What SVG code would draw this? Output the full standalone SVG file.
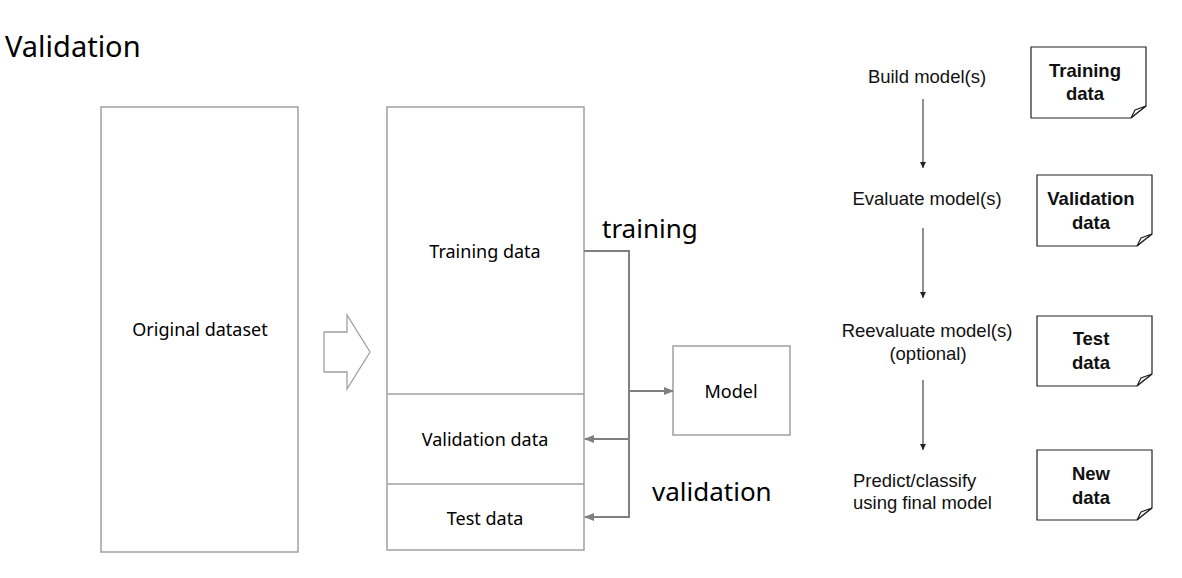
<svg xmlns="http://www.w3.org/2000/svg" width="1182" height="578" viewBox="0 0 1182 578">
<style>
.k{font-family:"Noto Sans","Open Sans",sans-serif;fill:#000}
.a{font-family:"Liberation Sans",Arial,sans-serif;fill:#111;font-size:18.5px}
.b{font-family:"Liberation Sans",Arial,sans-serif;fill:#111;font-size:18.5px;font-weight:bold;text-anchor:middle}
.box{fill:#fff;stroke:#a0a0a0;stroke-width:1.5}
.doc{fill:#fff;stroke:#222;stroke-width:1.2}
.con{fill:none;stroke:#808080;stroke-width:2}
.rar{fill:none;stroke:#222;stroke-width:1}
</style>
<defs>
<marker id="ga" markerUnits="userSpaceOnUse" markerWidth="10" markerHeight="8" refX="9" refY="4" orient="auto"><path d="M0,0 L10,4 L0,8 Z" fill="#808080"/></marker>
<marker id="ba" markerUnits="userSpaceOnUse" markerWidth="6" markerHeight="6" refX="6" refY="3" orient="auto"><path d="M0,0 L6,3 L0,6 Z" fill="#222"/></marker>
</defs>
<rect width="1182" height="578" fill="#fff"/>
<text class="k" x="5" y="57" font-size="29">Validation</text>
<g id="original">
<rect class="box" x="101" y="107" width="197" height="445"/>
<text class="k" x="200" y="336" font-size="18" text-anchor="middle">Original dataset</text>
</g>
<g id="blockarrow">
<path d="M324,332 H347 V315 L370,352 L347,389 V372 H324 Z" fill="#fff" stroke="#a0a0a0" stroke-width="1.3"/>
</g>
<g id="split">
<rect class="box" x="387" y="107" width="197" height="443"/>
<line x1="387" y1="394" x2="584" y2="394" stroke="#a0a0a0" stroke-width="1.5"/>
<line x1="387" y1="484" x2="584" y2="484" stroke="#a0a0a0" stroke-width="1.5"/>
<text class="k" x="485" y="258" font-size="18" text-anchor="middle">Training data</text>
<text class="k" x="485" y="446" font-size="18" text-anchor="middle">Validation data</text>
<text class="k" x="485" y="525" font-size="18" text-anchor="middle">Test data</text>
</g>
<g id="model">
<rect class="box" x="673" y="346" width="117" height="89"/>
<text class="k" x="731" y="398" font-size="18" text-anchor="middle">Model</text>
</g>
<g id="connectors">
<path class="con" d="M584,251 H629 V518"/>
<line class="con" x1="629" y1="391" x2="673" y2="391" marker-end="url(#ga)"/>
<line class="con" x1="629" y1="439" x2="585" y2="439" marker-end="url(#ga)"/>
<line class="con" x1="629" y1="517" x2="585" y2="517" marker-end="url(#ga)"/>
<line class="rar" x1="923" y1="99" x2="923" y2="168" marker-end="url(#ba)"/>
<line class="rar" x1="923" y1="228" x2="923" y2="298" marker-end="url(#ba)"/>
<line class="rar" x1="923" y1="380" x2="923" y2="450" marker-end="url(#ba)"/>
</g>
<text class="k" x="602" y="238" font-size="26">training</text>
<text class="k" x="652" y="501" font-size="26">validation</text>
<g id="steps">
<text class="a" x="927" y="83" text-anchor="middle">Build model(s)</text>
<text class="a" x="927" y="205" text-anchor="middle">Evaluate model(s)</text>
<text class="a" x="927" y="337" text-anchor="middle">Reevaluate model(s)</text>
<text class="a" x="928" y="360" text-anchor="middle">(optional)</text>
<text class="a" x="853" y="487">Predict/classify</text>
<text class="a" x="853" y="509">using final model</text>
</g>
<g id="doc-training">
<path class="doc" d="M1031,47 H1146 V106 L1131,118 H1031 Z"/>
<path class="doc" d="M1131,118 L1135,110 L1146,106 M1131,118 Q1138,112 1146,106" fill="none"/>
<text class="b" x="1085" y="77">Training</text>
<text class="b" x="1085" y="100">data</text>
</g>
<g id="doc-validation">
<path class="doc" d="M1037,175 H1152 V234 L1137,246 H1037 Z"/>
<path class="doc" d="M1137,246 L1141,238 L1152,234 M1137,246 Q1144,240 1152,234" fill="none"/>
<text class="b" x="1091" y="205">Validation</text>
<text class="b" x="1091" y="229">data</text>
</g>
<g id="doc-test">
<path class="doc" d="M1037,316 H1152 V374 L1137,386 H1037 Z"/>
<path class="doc" d="M1137,386 L1141,378 L1152,374 M1137,386 Q1144,380 1152,374" fill="none"/>
<text class="b" x="1091" y="345">Test</text>
<text class="b" x="1091" y="369">data</text>
</g>
<g id="doc-new">
<path class="doc" d="M1037,450 H1152 V508 L1137,520 H1037 Z"/>
<path class="doc" d="M1137,520 L1141,512 L1152,508 M1137,520 Q1144,514 1152,508" fill="none"/>
<text class="b" x="1091" y="480">New</text>
<text class="b" x="1091" y="504">data</text>
</g>
</svg>
